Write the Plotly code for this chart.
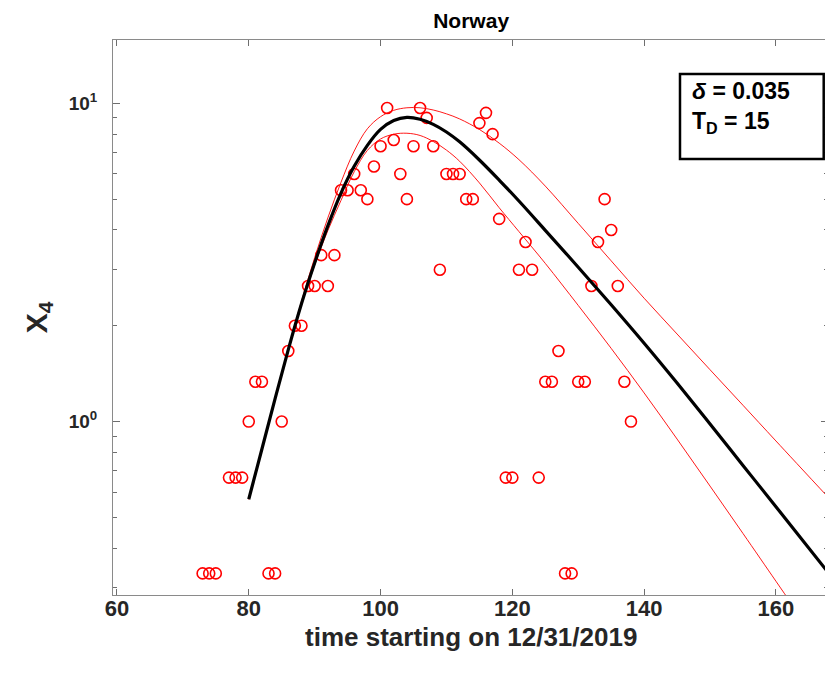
import plotly.graph_objects as go

days = [73, 74, 75, 77, 78, 79, 80, 81, 82, 83, 84, 85, 86, 87, 88, 89, 90,
        91, 92, 93, 94, 95, 96, 97, 98, 99, 100, 101, 102, 103, 104, 105,
        106, 107, 108, 109, 110, 111, 112, 113, 114, 115, 116, 117, 118,
        119, 120, 121, 122, 123, 124, 125, 126, 127, 128, 129, 130, 131,
        132, 133, 134, 135, 136, 137, 138]
x4_thirds = [1, 1, 1, 2, 2, 2, 3, 4, 4, 1, 1, 3, 5, 6, 6, 8, 8,
             10, 8, 10, 16, 16, 18, 16, 15, 19, 22, 29, 23, 18, 15, 22,
             29, 27, 22, 9, 18, 18, 18, 15, 15, 26, 28, 24, 13,
             2, 2, 9, 11, 9, 2, 4, 4, 5, 1, 1, 4, 4,
             8, 11, 15, 12, 8, 4, 3]
x4_obs = [v / 3 for v in x4_thirds]

# fitted model (black) and its band (red)
fit_days = [80, 82, 84, 86, 88, 90, 92, 94, 96, 98, 100, 102, 104, 106, 108,
            110, 112, 115, 118, 121, 125, 130, 135, 140, 145, 150, 155, 160, 168]
fit_mid = [0.570, 0.820, 1.180, 1.683, 2.344, 3.148, 4.121, 5.224, 6.339,
           7.379, 8.279, 8.831, 9.036, 8.913, 8.590, 8.128, 7.568, 6.637,
           5.741, 4.932, 3.990, 3.055, 2.328, 1.762, 1.321, 0.982, 0.728,
           0.540, 0.334]
fit_hi = [0.570, 0.820, 1.180, 1.690, 2.388, 3.273, 4.365, 5.649, 7.079,
          8.318, 9.078, 9.506, 9.683, 9.683, 9.528, 9.268, 8.933, 8.279,
          7.499, 6.653, 5.495, 4.194, 3.199, 2.441, 1.884, 1.455, 1.125,
          0.869, 0.576]
lo_days = [80, 82, 84, 86, 88, 90, 92, 94, 96, 98, 100, 102, 104, 106, 108,
           110, 112, 115, 118, 121, 125, 130, 135, 140, 145, 150, 155, 160, 163]
fit_lo = [0.570, 0.820, 1.180, 1.675, 2.323, 3.105, 3.981, 4.955, 6.095,
          7.112, 7.727, 7.998, 8.054, 7.925, 7.586, 7.129, 6.577, 5.623,
          4.699, 3.954, 3.141, 2.317, 1.698, 1.230, 0.881, 0.627, 0.445,
          0.315, 0.256]

y_major = [1, 10]
y_major_text = ["10<sup>0</sup>", "10<sup>1</sup>"]
y_minor = [0.3, 0.4, 0.5, 0.6, 0.7, 0.8, 0.9, 2, 3, 4, 5, 6, 7, 8, 9]
x_ticks = [60, 80, 100, 120, 140, 160]

fig = go.Figure()
fig.add_trace(go.Scatter(x=days, y=x4_obs, mode="markers",
                         marker=dict(symbol="circle-open", size=11, color="red",
                                     line=dict(width=1.6, color="red"))))
fig.add_trace(go.Scatter(x=fit_days, y=fit_hi, mode="lines", line_shape="spline",
                         line=dict(color="red", width=0.9)))
fig.add_trace(go.Scatter(x=lo_days, y=fit_lo, mode="lines", line_shape="spline",
                         line=dict(color="red", width=0.9)))
fig.add_trace(go.Scatter(x=fit_days, y=fit_mid, mode="lines", line_shape="spline",
                         line=dict(color="black", width=3.2)))

fig.update_xaxes(range=[59.4, 167.9], tickvals=x_ticks, ticks="inside", ticklen=6,
                 tickcolor="#6e6e6e", tickwidth=1, showline=True,
                 linecolor="#8a8a8a", linewidth=1, mirror="ticks",
                 showgrid=False, zeroline=False, ticklabelstandoff=-6,
                 tickfont=dict(family="Liberation Sans", size=22,
                               color="#262626", weight="bold"))
fig.update_yaxes(type="log", range=[-0.545, 1.199], tickvals=y_major,
                 ticktext=y_major_text, ticks="inside", ticklen=7,
                 tickcolor="#6e6e6e", tickwidth=1, showline=True,
                 linecolor="#8a8a8a", linewidth=1, mirror="ticks",
                 showgrid=False, zeroline=False,
                 tickfont=dict(family="Liberation Sans", size=19,
                               color="#262626", weight="bold"),
                 ticklabelstandoff=11,
                 minor=dict(tickvals=y_minor, ticks="inside", ticklen=4,
                            tickcolor="#6e6e6e", tickwidth=1, showgrid=False),
                 title=dict(text="X<sub>4</sub>", standoff=12,
                            font=dict(family="Liberation Sans", size=30,
                                      color="#262626", weight="bold")))

# x axis title placed under the tick labels
fig.add_annotation(xref="paper", yref="paper", x=0.5, y=-0.075,
                   xanchor="center", yanchor="middle", showarrow=False,
                   text="time starting on 12/31/2019",
                   font=dict(family="Liberation Sans", size=26,
                             color="#262626", weight="bold"))

# parameter box in the upper right corner
fig.add_shape(type="rect", xref="paper", yref="paper", x0=0.793, x1=0.994,
              y0=0.7856, y1=0.9387, line=dict(color="black", width=2.5),
              fillcolor="white")
fig.add_annotation(xref="paper", yref="paper", x=0.807, y=0.8775, xanchor="left",
                   yanchor="middle", align="left", showarrow=False,
                   text="<i>δ</i> = 0.035<br>T<sub>D</sub> = 15",
                   font=dict(family="Liberation Sans", size=23, color="black",
                             weight="bold"))

fig.update_layout(width=833, height=676, showlegend=False,
                  margin=dict(l=105, r=13, t=32, b=89),
                  plot_bgcolor="white", paper_bgcolor="white",
                  title=dict(text="Norway", x=0.556, xanchor="center", y=0.982,
                             yanchor="middle",
                             font=dict(family="Liberation Sans", size=21,
                                       color="black", weight="bold")))

fig.write_html("out.html")
